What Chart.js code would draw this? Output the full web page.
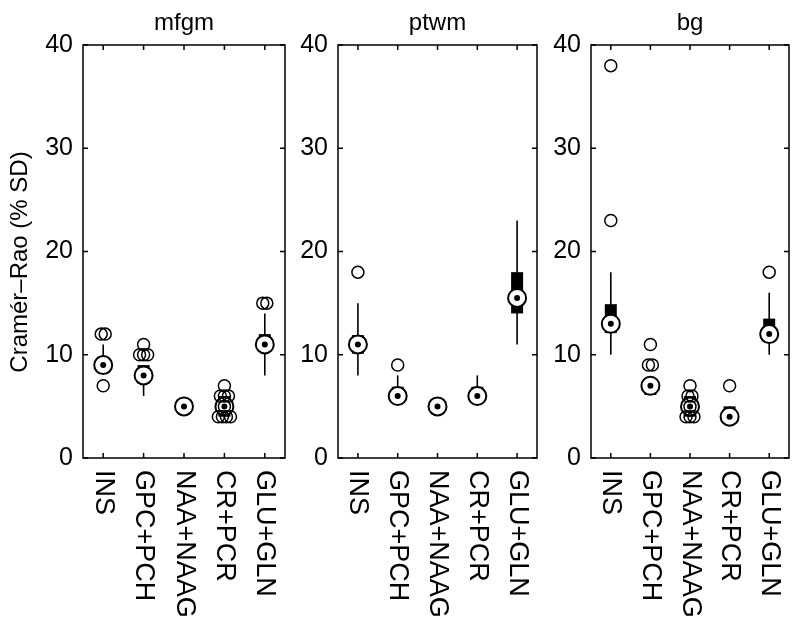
<!DOCTYPE html>
<html>
<head>
<meta charset="utf-8">
<script src="https://cdn.jsdelivr.net/npm/chart.js@4/dist/chart.umd.min.js"></script>
<style>
    body { margin: 0; background: #fff; }
    #wrap { position: relative; width: 800px; height: 624px; }
    #wrap canvas { position: absolute; left: 0; top: 0; }
</style>
</head>
<body>
<div id="wrap">
    <canvas id="c1" width="800" height="624"></canvas>
    <canvas id="c2" width="800" height="624"></canvas>
    <canvas id="c3" width="800" height="624"></canvas>
</div>
<script>
// Categories and axis
const categories = ['INS', 'GPC+PCH', 'NAA+NAAG', 'CR+PCR', 'GLU+GLN'];
const yTicks = [0, 10, 20, 30, 40];
const yTitle = 'Cramér–Rao (% SD)';

// mfgm
const mfgmMedian = [9, 8, 5, 5, 11];
const mfgmBox = [[8.5, 9.8], [7.2, 9], [4.2, 5], [4, 6], [11, 12]];
const mfgmWhisker = [[8.5, 11], [6, 9], [4.2, 5], [4, 6], [8, 14]];
const mfgmOutliers = [[12, 12, 7], [11, 10, 10, 10], [], [7, 6, 6, 6, 5, 4, 4, 4, 4], [15, 15]];

// ptwm
const ptwmMedian = [11, 6, 5, 6, 15.5];
const ptwmBox = [[10.1, 11.9], [6, 6.9], [4.2, 5], [6, 6.9], [14, 18]];
const ptwmWhisker = [[8, 15], [6, 8], [4.2, 5], [6, 8], [11, 23]];
const ptwmOutliers = [[18], [9], [], [], []];

// bg
const bgMedian = [13, 7, 5, 4, 12];
const bgBox = [[12.1, 14.9], [6.1, 7], [4, 6], [4, 5], [11.5, 13.5]];
const bgWhisker = [[10, 18], [6.1, 7], [4, 6], [4, 5], [10, 16]];
const bgOutliers = [[23, 38], [9, 9, 11], [7, 6, 6, 5, 4, 4, 4], [7], [18]];

const fontFamily = '"Liberation Sans", Arial, Helvetica, sans-serif';
Chart.defaults.font.family = fontFamily;
Chart.defaults.color = '#000';

// Spread repeated outliers a little so they stay visible
function jitterOutliers(outliers) {
    const pts = [];
    outliers.forEach((vals, i) => {
        const counts = {};
        vals.forEach(v => counts[v] = (counts[v] || 0) + 1);
        const seen = {};
        vals.forEach(v => {
            const n = counts[v];
            const k = seen[v] || 0;
            seen[v] = k + 1;
            const dx = n > 1 ? (k - (n - 1) / 2) * 0.1 : 0;
            pts.push({ x: i + 1 + dx, y: v });
        });
    });
    return pts;
}

// Frame, inward ticks, titles and rotated category labels
const frame = {
    id: 'frame',
    afterDraw(chart, args, opts) {
        const { ctx, chartArea: a, scales } = chart;
        ctx.save();
        ctx.strokeStyle = '#000';
        ctx.lineWidth = 1.5;
        ctx.strokeRect(a.left, a.top, a.right - a.left, a.bottom - a.top);
        ctx.beginPath();
        categories.forEach((c, i) => {
            const x = scales.x.getPixelForValue(i + 1);
            ctx.moveTo(x, a.top); ctx.lineTo(x, a.top + 5);
            ctx.moveTo(x, a.bottom); ctx.lineTo(x, a.bottom - 5);
        });
        yTicks.forEach(v => {
            const y = scales.y.getPixelForValue(v);
            ctx.moveTo(a.left, y); ctx.lineTo(a.left + 5, y);
            ctx.moveTo(a.right, y); ctx.lineTo(a.right - 5, y);
        });
        ctx.stroke();

        ctx.fillStyle = '#000';
        ctx.font = '24px ' + fontFamily;
        ctx.textAlign = 'center';
        ctx.textBaseline = 'alphabetic';
        ctx.fillText(opts.title, (a.left + a.right) / 2, 30);

        ctx.font = '27px ' + fontFamily;
        ctx.textAlign = 'left';
        ctx.textBaseline = 'middle';
        categories.forEach((c, i) => {
            const x = scales.x.getPixelForValue(i + 1);
            ctx.save();
            ctx.translate(x, a.bottom + 12);
            ctx.rotate(Math.PI / 2);
            ctx.fillText(c, 0, 0);
            ctx.restore();
        });

        if (opts.yTitle) {
            ctx.font = '24px ' + fontFamily;
            ctx.textAlign = 'center';
            ctx.save();
            ctx.translate(20, 262);
            ctx.rotate(-Math.PI / 2);
            ctx.fillText(opts.yTitle, 0, 0);
            ctx.restore();
        }
        ctx.restore();
    }
};

function createPanel(id, title, median, box, whisker, outliers, padLeft, padRight, axisWidth, withYTitle) {
    new Chart(document.getElementById(id), {
        type: 'bar',
        data: {
            datasets: [
                {
                    type: 'bar',
                    data: whisker.map((r, i) => ({ x: i + 1, y: r })),
                    backgroundColor: '#000',
                    maxBarThickness: 1.6,
                    grouped: false,
                    order: 5
                },
                {
                    type: 'bar',
                    data: box.map((r, i) => ({ x: i + 1, y: r })),
                    backgroundColor: '#000',
                    maxBarThickness: 12,
                    grouped: false,
                    order: 4
                },
                {
                    type: 'scatter',
                    data: median.map((v, i) => ({ x: i + 1, y: v })),
                    pointRadius: 9,
                    pointBorderWidth: 2,
                    pointBorderColor: '#000',
                    pointBackgroundColor: '#fff',
                    order: 3
                },
                {
                    type: 'scatter',
                    data: median.map((v, i) => ({ x: i + 1, y: v })),
                    pointRadius: 3,
                    pointBorderWidth: 0,
                    pointBackgroundColor: '#000',
                    order: 2
                },
                {
                    type: 'scatter',
                    data: jitterOutliers(outliers),
                    pointRadius: 6,
                    pointBorderWidth: 1.5,
                    pointBorderColor: '#000',
                    pointBackgroundColor: 'rgba(0,0,0,0)',
                    order: 1
                }
            ]
        },
        options: {
            responsive: false,
            animation: false,
            devicePixelRatio: 1,
            layout: { padding: { left: padLeft, right: padRight, top: 45, bottom: 166 } },
            plugins: {
                legend: { display: false },
                tooltip: { enabled: false },
                frame: { title: title, yTitle: withYTitle ? yTitle : null }
            },
            scales: {
                x: { type: 'linear', min: 0.5, max: 5.5, offset: false, display: false },
                y: {
                    min: 0,
                    max: 40,
                    ticks: { stepSize: 10, padding: 10, color: '#000', font: { size: 25 } },
                    grid: { display: false, drawTicks: false },
                    border: { display: false },
                    afterFit: (scale) => { scale.width = axisWidth; }
                }
            }
        },
        plugins: [frame]
    });
}

createPanel('c1', 'mfgm', mfgmMedian, mfgmBox, mfgmWhisker, mfgmOutliers, 0, 515, 83, true);
createPanel('c2', 'ptwm', ptwmMedian, ptwmBox, ptwmWhisker, ptwmOutliers, 278, 263, 60, false);
createPanel('c3', 'bg', bgMedian, bgBox, bgWhisker, bgOutliers, 531, 9, 60, false);
</script>
</body>
</html>
